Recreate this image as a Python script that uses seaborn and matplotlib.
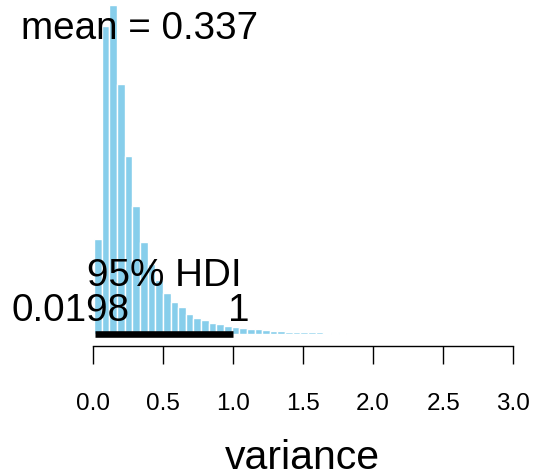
import numpy as np
import pandas as pd
import matplotlib
matplotlib.use("Agg")
import matplotlib.pyplot as plt
import seaborn as sns

# ---- data ----
bin_start = 0.010
bin_width = 0.0545
densities = [1.07, 3.46, 3.70, 2.81, 2.00, 1.44, 1.03, 0.79, 0.61, 0.46,
             0.36, 0.30, 0.225, 0.18, 0.157, 0.124, 0.112, 0.093, 0.075, 0.064,
             0.060, 0.051, 0.042, 0.030, 0.030, 0.028, 0.022, 0.022, 0.019, 0.017,
             0.011, 0.008, 0.006, 0.004, 0.003, 0.002]
mean_value = 0.337
hdi = [0.0198, 1.0]
hdi_labels = ["0.0198", "1"]
x_ticks = [0.0, 0.5, 1.0, 1.5, 2.0, 2.5, 3.0]
x_tick_labels = ["0.0", "0.5", "1.0", "1.5", "2.0", "2.5", "3.0"]
x_label = "variance"

edges = [float(bin_start + bin_width * i) for i in range(len(densities) + 1)]
centers = [(edges[i] + edges[i + 1]) / 2 for i in range(len(densities))]
df = pd.DataFrame({"value": centers, "density": densities})

# ---- figure ----
sns.set_style("white")
plt.rcParams["font.family"] = ["Liberation Sans", "DejaVu Sans"]
plt.rcParams["text.color"] = "black"
plt.rcParams["axes.labelcolor"] = "black"
plt.rcParams["xtick.color"] = "black"

W, H = 535, 477
fig = plt.figure(figsize=(W / 100, H / 100), dpi=100)
ax = fig.add_axes([0, 0, 1, 1])

PX_X = 140.2         # pixels per x unit
X0_PX = 92.7         # pixel of x = 0
PX_Y = 89.0          # pixels per density unit
BASE_PX = 335.0      # pixel row (from top) of density 0

sns.histplot(data=df, x="value", weights="density", bins=edges, stat="count",
             color="#87CEEB", edgecolor="white", linewidth=1.0, alpha=1.0, ax=ax)

ax.set_xlim(-X0_PX / PX_X, (W - X0_PX) / PX_X)
ax.set_ylim(-(H - BASE_PX) / PX_Y, BASE_PX / PX_Y)

# HDI bar
ax.plot(hdi, [0, 0], color="black", lw=4.75, solid_capstyle="butt", zorder=5)

fs = 27.8
ax.text(mean_value, 0.9 * max(densities), f"mean = {mean_value}", ha="center",
        va="baseline", fontsize=fs, color="black", zorder=6)
ax.annotate("95% HDI", xy=(float(np.mean(hdi)), 0), xytext=(0, 35.3),
            textcoords="offset points", ha="center", va="baseline", fontsize=fs,
            color="black", zorder=6)
ax.annotate(hdi_labels[0], xy=(hdi[0], 0), xytext=(24.8, 10.1),
            textcoords="offset points", ha="right", va="baseline", fontsize=fs,
            color="black", zorder=6)
ax.annotate(hdi_labels[1], xy=(hdi[1], 0), xytext=(-3.5, 10.1),
            textcoords="offset points", ha="left", va="baseline", fontsize=fs,
            color="black", zorder=6)

# axes styling
for s in ["top", "right", "left"]:
    ax.spines[s].set_visible(False)
ax.spines["bottom"].set_position(("data", -12 / PX_Y))
ax.spines["bottom"].set_bounds(x_ticks[0], x_ticks[-1])
ax.spines["bottom"].set_color("black")
ax.spines["bottom"].set_linewidth(1.0)
ax.set_xticks(x_ticks)
ax.set_xticklabels(x_tick_labels)
ax.tick_params(axis="x", direction="out", length=13, width=1.0, color="black",
               labelcolor="black", labelsize=17.5, pad=20, bottom=True)
ax.set_yticks([])
ax.set_ylabel("")
ax.set_xlabel(x_label, fontsize=29.5, color="black")
ax.xaxis.set_label_coords(302 / W, (H - 439) / H)
ax.grid(False)

fig.savefig("out.png", dpi=100)
